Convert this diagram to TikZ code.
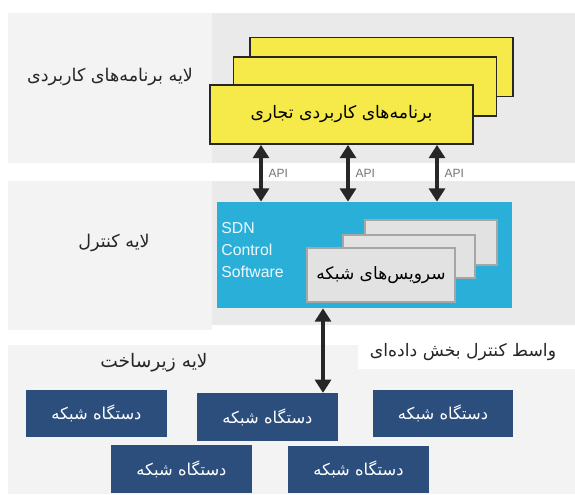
\documentclass[tikz,border=0pt]{standalone}
\usepackage{fontspec}
\setmainfont{Liberation Sans}
\newfontfamily\arabicfont[Script=Arabic]{DejaVu Sans}
\TeXXeTstate=1
\usetikzlibrary{arrows.meta}

\definecolor{bandlight}{HTML}{F3F3F3}
\definecolor{banddark}{HTML}{EAEAEA}
\definecolor{appyellow}{HTML}{F6E94A}
\definecolor{sdnblue}{HTML}{2AAFD9}
\definecolor{srvgray}{HTML}{E2E2E2}
\definecolor{devnavy}{HTML}{2B4E7D}

\newcommand{\fa}[1]{{\arabicfont\beginR #1\endR}}

\tikzset{
  appbox/.style={draw=black!85,line width=1pt,fill=appyellow,
    minimum width=5.26cm,minimum height=1.18cm,inner sep=0pt},
  srvbox/.style={draw=black!35,line width=0.6pt,fill=srvgray,inner sep=0pt},
  devbox/.style={fill=devnavy,text=white,minimum width=2.82cm,
    minimum height=0.95cm,inner sep=0pt,font=\fontsize{9.3}{11}\selectfont},
  dblarrow/.style={{Triangle[width=9pt,length=7.5pt]}-{Triangle[width=9pt,length=7.5pt]},
    line width=2.1pt,black!85},
  layerlabel/.style={font=\fontsize{10}{12}\selectfont,text=black!85},
  apilabel/.style={font=\fontsize{6.8}{8}\selectfont,text=black!55,right}
}

\begin{document}
\begin{tikzpicture}[x=0.02cm,y=-0.02cm]
  \useasboundingbox (0,0) rectangle (575,494);
  % layer bands
  \fill[bandlight](8,13)rectangle(212,163);
  \fill[banddark](212,13)rectangle(575,163);
  \fill[bandlight](8,181)rectangle(212,330);
  \fill[banddark](212,181)rectangle(575,325);
  \fill[bandlight](8,345)--(358,345)--(358,369)--(575,369)--(575,494)--(8,494)--cycle;

  % application layer
  \node[appbox] (app1) at (381.5,67) {};
  \node[appbox] (app2) at (365,86.5) {};
  \node[appbox,font=\fontsize{9.8}{12}\selectfont] (app3) at (341.5,114.5)
       {\fa{برنامه‌های کاربردی تجاری}};
  \node[layerlabel] (applbl) at (110,77) {\fa{لایه برنامه‌های کاربردی}};

  % control layer
  \node[fill=sdnblue,minimum width=5.9cm,minimum height=2.12cm,inner sep=0pt]
       (ctrl) at (364.5,255) {};
  \node[anchor=north west,align=left,text=white!92!sdnblue,
        font=\fontsize{9}{12.5}\selectfont,inner sep=0pt]
       (sdn) at (221,222) {SDN\\Control\\Software};
  \node[srvbox,minimum width=2.64cm,minimum height=0.9cm] (srv1) at (431,242.5) {};
  \node[srvbox,minimum width=2.64cm,minimum height=0.86cm] (srv2) at (409,256.5) {};
  \node[srvbox,minimum width=2.96cm,minimum height=1.08cm,
        font=\fontsize{9.7}{12}\selectfont] (srv3) at (381,275)
       {\fa{سرویس‌های شبکه}};
  \node[layerlabel] (ctrllbl) at (114,243) {\fa{لایه کنترل}};

  % API arrows
  \foreach \x/\n in {261/1,348/2,437/3}
  {
    \coordinate (api\n) at (\x,0);
    \draw[dblarrow](app3.south -| api\n)--(ctrl.north -| api\n)
         node[midway,apilabel]{API};
  }

  % infrastructure layer
  \node[devbox] (dev1) at (96.5,413.5) {\fa{دستگاه شبکه}};
  \node[devbox] (dev2) at (267.5,417) {\fa{دستگاه شبکه}};
  \node[devbox] (dev3) at (443,413.5) {\fa{دستگاه شبکه}};
  \node[devbox] (dev4) at (181.5,469) {\fa{دستگاه شبکه}};
  \node[devbox] (dev5) at (358.5,469.5) {\fa{دستگاه شبکه}};
  \node[layerlabel,font=\fontsize{10.6}{12}\selectfont] (infralbl) at (154,363)
       {\fa{لایه زیرساخت}};

  % southbound interface
  \coordinate (sb) at (323,0);
  \draw[dblarrow](ctrl.south -| sb)--(dev2.north -| sb);
  \node[layerlabel,font=\fontsize{9.8}{12}\selectfont] (sblbl) at (463,352)
       {\fa{واسط کنترل بخش داده‌ای}};
\end{tikzpicture}
\end{document}
